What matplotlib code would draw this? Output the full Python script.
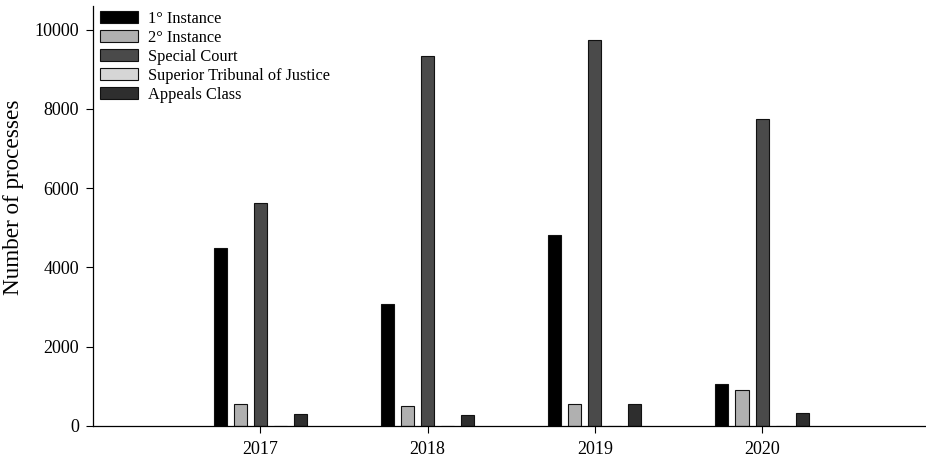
import numpy as np
import matplotlib
matplotlib.use("Agg")
import matplotlib.pyplot as plt

years = ["2017", "2018", "2019", "2020"]
series_names = ["1° Instance", "2° Instance", "Special Court",
                "Superior Tribunal of Justice", "Appeals Class"]
first_instance = [4500, 3080, 4810, 1050]
second_instance = [545, 505, 550, 900]
special_court = [5620, 9340, 9750, 7740]
superior_tribunal = [0, 0, 0, 0]
appeals_class = [305, 280, 550, 335]
colors = ["#000000", "#b0b0b0", "#4a4a4a", "#d6d6d6", "#2e2e2e"]

plt.rcParams["font.family"] = ["Liberation Serif", "DejaVu Serif"]

fig = plt.figure(figsize=(9.26, 4.59), dpi=100)
ax = fig.add_axes([0.1005, 0.072, 0.8995, 0.915])

x = np.arange(len(years))
step = 0.12
width = 0.078
all_series = [first_instance, second_instance, special_court,
              superior_tribunal, appeals_class]
for i, (name, vals, c) in enumerate(zip(series_names, all_series, colors)):
    ax.bar(x + (i - 2) * step, vals, width=width, color=c,
           edgecolor="#111111", linewidth=0.8, label=name)

ax.set_xlim(-1.0, 3.98)
ax.set_ylim(0, 10600)
ax.set_xticks(x)
ax.set_xticklabels(years)
ax.set_yticks(np.arange(0, 10001, 2000))
ax.tick_params(axis="both", direction="out", length=5, width=0.8,
               labelsize=13, pad=5)
ax.tick_params(axis="x", pad=6)
for s in ["top", "right"]:
    ax.spines[s].set_visible(False)
for s in ["left", "bottom"]:
    ax.spines[s].set_linewidth(0.9)
ax.set_ylabel("Number of processes", fontsize=16.7)
ax.yaxis.set_label_coords(-0.083, 0.545)

ax.legend(loc="upper left", frameon=False, fontsize=11.8,
          handlelength=2.3, handleheight=0.75, handletextpad=0.6,
          labelspacing=0.18, borderaxespad=0.0, borderpad=0.0,
          bbox_to_anchor=(7 / 833, 1 - 5 / 420))

fig.savefig("out.png", dpi=100)
